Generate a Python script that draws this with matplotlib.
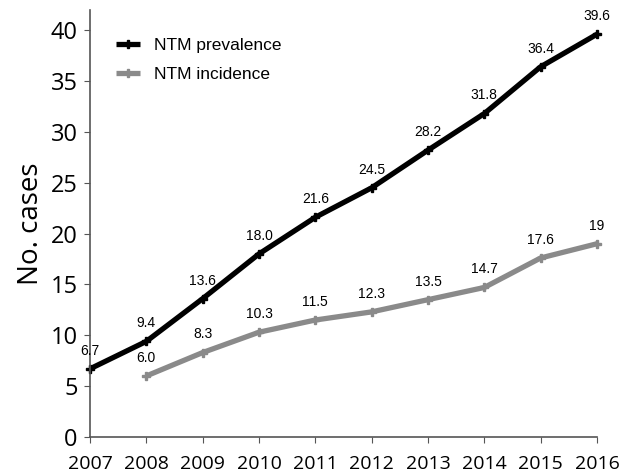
import matplotlib
matplotlib.use('Agg')
import matplotlib.pyplot as plt

years = [2007, 2008, 2009, 2010, 2011, 2012, 2013, 2014, 2015, 2016]
prev_years = years
prev_vals = [6.7, 9.4, 13.6, 18.0, 21.6, 24.5, 28.2, 31.8, 36.4, 39.6]
prev_labels = ['6.7', '9.4', '13.6', '18.0', '21.6', '24.5', '28.2', '31.8', '36.4', '39.6']
inc_years = years[1:]
inc_vals = [6.0, 8.3, 10.3, 11.5, 12.3, 13.5, 14.7, 17.6, 19.0]
inc_labels = ['6.0', '8.3', '10.3', '11.5', '12.3', '13.5', '14.7', '17.6', '19']

fig = plt.figure(figsize=(6.19, 4.72), dpi=100)
ax = fig.add_axes([0.1454, 0.0742, 0.819, 0.905])

ax.plot(prev_years, prev_vals, color='black', lw=3.8, marker='P', ms=6,
        label='NTM prevalence', solid_capstyle='butt')
ax.plot(inc_years, inc_vals, color='#8a8a8a', lw=3.8, marker='P', ms=6,
        label='NTM incidence', solid_capstyle='butt')

# data labels
for x, y, t in zip(prev_years, prev_vals, prev_labels):
    ax.annotate(t, (x, y), xytext=(0, 8), textcoords='offset points',
                ha='center', va='bottom', fontsize=10, family='Liberation Sans')
for x, y, t in zip(inc_years, inc_vals, inc_labels):
    ax.annotate(t, (x, y), xytext=(0, 8), textcoords='offset points',
                ha='center', va='bottom', fontsize=10, family='Liberation Sans')

ax.set_xlim(2007, 2016)
ax.set_ylim(0, 42)
ax.set_xticks(years)
ax.set_yticks(range(0, 45, 5))
ax.tick_params(axis='both', colors='#555555', labelcolor='black',
               direction='out', length=4)
ax.tick_params(axis='x', labelsize=14, pad=9)
ax.tick_params(axis='y', labelsize=17, pad=5)
for lab in ax.get_xticklabels() + ax.get_yticklabels():
    lab.set_family('Open Sans')
ax.set_ylabel('No. cases', fontsize=20, family='Open Sans', labelpad=4)

for s in ['top', 'right']:
    ax.spines[s].set_visible(False)
for s in ['left', 'bottom']:
    ax.spines[s].set_color('#555555')
    ax.spines[s].set_linewidth(1.2)

ax.legend(loc='upper left', bbox_to_anchor=(0.02, 0.97), frameon=False,
          prop={'family': 'Liberation Sans', 'size': 12.5},
          handlelength=1.4, labelspacing=0.75)

for line in ax.lines:
    line.set_clip_on(False)

fig.savefig('out.png', dpi=100)
